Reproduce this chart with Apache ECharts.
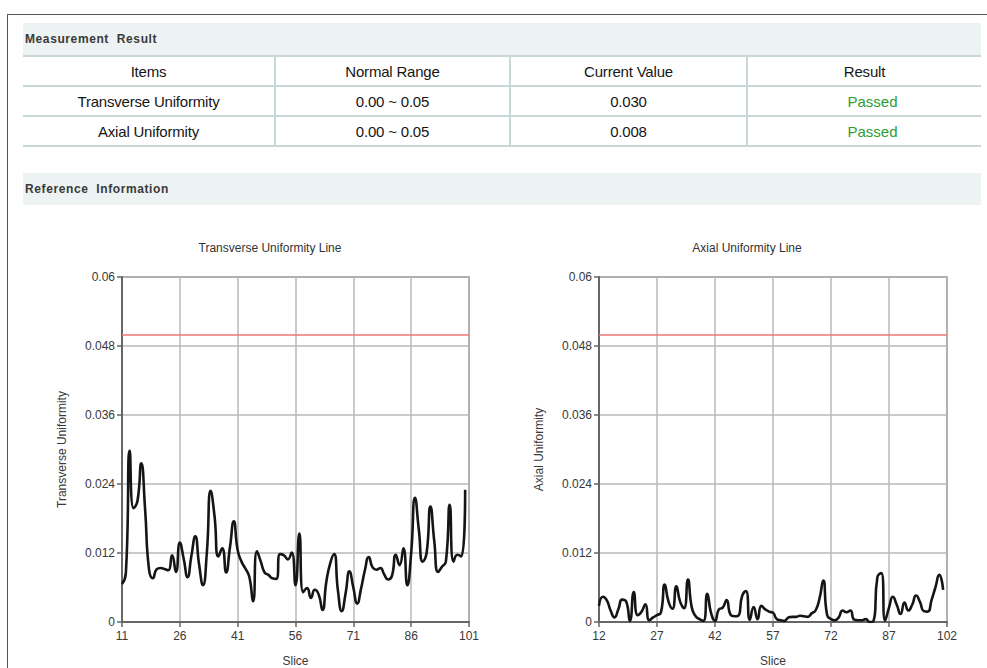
<!DOCTYPE html>
<html>
<head>
<meta charset="utf-8">
<title>Uniformity Report</title>
<script src="https://cdn.jsdelivr.net/npm/echarts@6/dist/echarts.min.js"></script>
<style>
  html, body { margin: 0; padding: 0; background: #fff; }
  body { width: 987px; height: 668px; position: relative; overflow: hidden;
         font-family: "Liberation Sans", Arial, sans-serif; color: #222; }
  .frame { position: absolute; left: 7px; top: 14px; width: 1000px; height: 700px;
           border-top: 1.5px solid #555; border-left: 1.5px solid #555; }
  .band { position: absolute; left: 23px; width: 958px; height: 32px; background: #edf2f2;
          font-size: 12px; font-weight: bold; color: #3a3a3a; line-height: 32px;
          letter-spacing: 0.6px; box-sizing: border-box; padding-left: 2px; }
  table.result { position: absolute; left: 23px; top: 55px; width: 958px;
                 border-collapse: collapse; table-layout: fixed; }
  table.result td { height: 28px; padding: 0; text-align: center; font-size: 15px; color: #161616;
                    letter-spacing: -0.2px;
                    border-top: 2px solid #c8d8d8; border-bottom: 2px solid #c8d8d8;
                    border-left: 2px solid #c8d8d8; }
  table.result td:first-child { border-left: none; }
  table.result td.pass { color: #2e9e34; padding-left: 16px; letter-spacing: 0; }
  #chart { position: absolute; left: 0; top: 0; width: 987px; height: 668px; }
</style>
</head>
<body>
<div class="frame"></div>
<div class="band" style="top:23px;">Measurement&nbsp; Result</div>
<table class="result">
  <colgroup><col style="width:252px"><col style="width:235px"><col style="width:237px"><col style="width:234px"></colgroup>
  <tr><td>Items</td><td>Normal Range</td><td>Current Value</td><td>Result</td></tr>
  <tr><td>Transverse Uniformity</td><td>0.00 ~ 0.05</td><td>0.030</td><td class="pass">Passed</td></tr>
  <tr><td>Axial Uniformity</td><td>0.00 ~ 0.05</td><td>0.008</td><td class="pass">Passed</td></tr>
</table>
<div class="band" style="top:173px;">Reference&nbsp; Information</div>
<div id="chart"></div>
<script>
// Upper limit of the normal range (red reference line)
const upperLimit = 0.05;

// Transverse uniformity, one value per slice starting at slice 11
const transverseFirstSlice = 11;
const transverseValues = [
  0.0066, 0.0085, 0.0298, 0.0198, 0.0210, 0.0276, 0.0195, 0.0092, 0.0076, 0.0092,
  0.0094, 0.0092, 0.0090, 0.0116, 0.0087, 0.0138, 0.0110, 0.0078, 0.0115, 0.0149,
  0.0100, 0.0064, 0.0120, 0.0228, 0.0184, 0.0114, 0.0128, 0.0086, 0.0130, 0.0175,
  0.0125, 0.0105, 0.0093, 0.0079, 0.0036, 0.0123, 0.0105, 0.0086, 0.0082, 0.0076,
  0.0075, 0.0118, 0.0116, 0.0109, 0.0121, 0.0064, 0.0154, 0.0052, 0.0059, 0.0042,
  0.0056, 0.0048, 0.0021, 0.0070, 0.0102, 0.0118, 0.0055, 0.0019, 0.0050, 0.0088,
  0.0060, 0.0032, 0.0058, 0.0090, 0.0113, 0.0095, 0.0091, 0.0094, 0.0083, 0.0074,
  0.0080, 0.0117, 0.0099, 0.0128, 0.0064, 0.0120, 0.0216, 0.0160, 0.0105, 0.0120,
  0.0201, 0.0140, 0.0087, 0.0096, 0.0105, 0.0204, 0.0105, 0.0117, 0.0114, 0.0230
];

// Axial uniformity, one value per slice starting at slice 12
const axialFirstSlice = 12;
const axialValues = [
  0.0028, 0.0044, 0.0038, 0.0020, 0.0008, 0.0022, 0.0039, 0.0036, 0.0002, 0.0052,
  0.0012, 0.0018, 0.0031, 0.0003, 0.0008, 0.0012, 0.0016, 0.0065, 0.0035, 0.0023,
  0.0062, 0.0035, 0.0024, 0.0074, 0.0025, 0.0010, 0.0005, 0.0002, 0.0049, 0.0015,
  0.0002, 0.0022, 0.0025, 0.0038, 0.0013, 0.0010, 0.0011, 0.0045, 0.0054, 0.0004,
  0.0026, 0.0005, 0.0028, 0.0022, 0.0018, 0.0016, 0.0005, 0.0003, 0.0002, 0.0008,
  0.0009, 0.0009, 0.0011, 0.0010, 0.0009, 0.0015, 0.0020, 0.0040, 0.0072, 0.0012,
  0.0005, 0.0003, 0.0008, 0.0020, 0.0017, 0.0020, 0.0004, 0.0003, 0.0003, 0.0005,
  0.0000, 0.0002, 0.0078, 0.0085, 0.0003, 0.0025, 0.0044, 0.0030, 0.0014, 0.0034,
  0.0020, 0.0030, 0.0046, 0.0035, 0.0019, 0.0018, 0.0038, 0.0060, 0.0082, 0.0056
];

// Axis ranges (slice axis ticks every 15 slices, value axis every 0.012)
const transverseSliceRange = [11, 101];
const axialSliceRange = [12, 102];
const sliceStep = 15;
const valueRange = [0, 0.06];
const valueStep = 0.012;

const toPairs = (first, vals) => vals.map((v, i) => [first + i, v]);

const font = '"Liberation Sans Narrow", "Liberation Sans", Arial, sans-serif';
const labelStyle = { color: '#383838', fontSize: 12, fontFamily: font };

function xAxisFor(gridIndex, range) {
  return {
    type: 'value', gridIndex, min: range[0], max: range[1], interval: sliceStep,
    name: 'Slice', nameLocation: 'middle', nameGap: 33,
    nameTextStyle: { color: '#383838', fontSize: 12, fontFamily: font },
    axisLine: { show: true, onZero: false, lineStyle: { color: '#666', width: 2 } },
    axisTick: { show: true, length: 5, lineStyle: { color: '#666', width: 1.5 } },
    axisLabel: Object.assign({ margin: 8 }, labelStyle),
    splitLine: { show: true, lineStyle: { color: '#b9b9b9', width: 1.5 } }
  };
}
function yAxisFor(gridIndex, name) {
  return {
    type: 'value', gridIndex, min: valueRange[0], max: valueRange[1], interval: valueStep,
    name, nameLocation: 'middle', nameGap: 54,
    nameTextStyle: { color: '#383838', fontSize: 12, fontFamily: font },
    axisLine: { show: true, lineStyle: { color: '#666', width: 2 } },
    axisTick: { show: true, length: 5, lineStyle: { color: '#666', width: 1.5 } },
    axisLabel: Object.assign({ margin: 7, formatter: v => String(parseFloat(v.toFixed(3))) }, labelStyle),
    splitLine: { show: true, lineStyle: { color: '#b9b9b9', width: 1.5 } }
  };
}
function lineSeries(idx, data) {
  return {
    type: 'line', xAxisIndex: idx, yAxisIndex: idx, data,
    smooth: 0.55, showSymbol: false, symbol: 'none', silent: true,
    lineStyle: { color: '#151515', width: 2.6 },
    markLine: {
      silent: true, symbol: 'none', animation: false,
      label: { show: false },
      lineStyle: { color: '#f07474', width: 1.5, type: 'solid' },
      data: [{ yAxis: upperLimit }]
    }
  };
}
function gridAt(left, width) {
  return { left, top: 277, width, height: 345, show: true, borderColor: '#777', borderWidth: 1.5,
           containLabel: false, outerBoundsMode: 'none' };
}

const chart = echarts.init(document.getElementById('chart'), null, { renderer: 'svg' });
chart.setOption({
  animation: false,
  backgroundColor: 'transparent',
  title: [
    { text: 'Transverse Uniformity Line', left: 265, top: 237, textAlign: 'center',
      textStyle: { color: '#333', fontSize: 12, fontWeight: 'normal', fontFamily: font } },
    { text: 'Axial Uniformity Line', left: 742, top: 237, textAlign: 'center',
      textStyle: { color: '#333', fontSize: 12, fontWeight: 'normal', fontFamily: font } }
  ],
  grid: [gridAt(122, 347), gridAt(599, 348)],
  xAxis: [xAxisFor(0, transverseSliceRange), xAxisFor(1, axialSliceRange)],
  yAxis: [yAxisFor(0, 'Transverse Uniformity'), yAxisFor(1, 'Axial Uniformity')],
  series: [
    lineSeries(0, toPairs(transverseFirstSlice, transverseValues)),
    lineSeries(1, toPairs(axialFirstSlice, axialValues))
  ]
});
</script>
</body>
</html>
